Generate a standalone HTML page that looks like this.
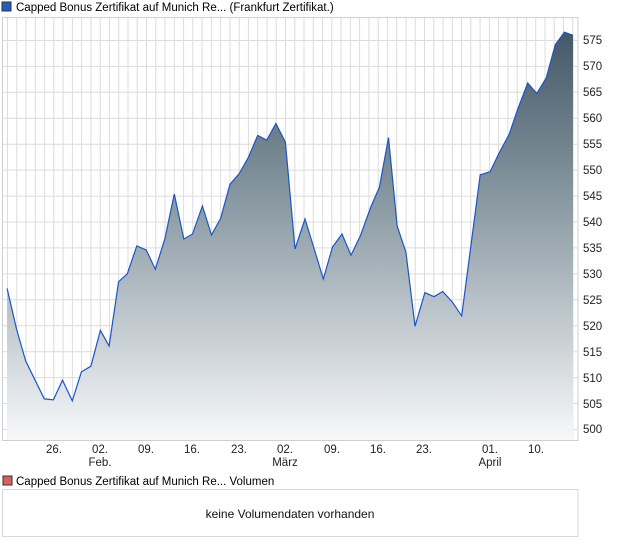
<!DOCTYPE html>
<html><head><meta charset="utf-8"><style>
html,body{margin:0;padding:0;background:#fff;}
svg{display:block;font-family:"Liberation Sans",Arial,sans-serif;}
</style></head><body>
<svg width="620" height="546" viewBox="0 0 620 546" xmlns="http://www.w3.org/2000/svg">
<defs>
<linearGradient id="g" x1="0" y1="30" x2="0" y2="440" gradientUnits="userSpaceOnUse">
<stop offset="0" stop-color="#435766"/>
<stop offset="0.45" stop-color="#8f9ea6"/>
<stop offset="1" stop-color="#f7f8fa"/>
</linearGradient>
</defs>
<rect x="2" y="2" width="9" height="9" fill="#1f5fbf" stroke="#333" stroke-width="1"/>
<text x="16" y="11" font-size="11.5" fill="#000">Capped Bonus Zertifikat auf Munich Re... (Frankfurt Zertifikat.)</text>
<g id="grid" stroke="#dcdcdc" stroke-width="1"></g>
<g stroke="#dcdcdc" stroke-width="1">
<line x1="2" y1="40.5" x2="578" y2="40.5"/><line x1="2" y1="66.4" x2="578" y2="66.4"/><line x1="2" y1="92.3" x2="578" y2="92.3"/><line x1="2" y1="118.3" x2="578" y2="118.3"/><line x1="2" y1="144.2" x2="578" y2="144.2"/><line x1="2" y1="170.1" x2="578" y2="170.1"/><line x1="2" y1="196.1" x2="578" y2="196.1"/><line x1="2" y1="222" x2="578" y2="222"/><line x1="2" y1="247.9" x2="578" y2="247.9"/><line x1="2" y1="273.9" x2="578" y2="273.9"/><line x1="2" y1="299.8" x2="578" y2="299.8"/><line x1="2" y1="325.7" x2="578" y2="325.7"/><line x1="2" y1="351.7" x2="578" y2="351.7"/><line x1="2" y1="377.6" x2="578" y2="377.6"/><line x1="2" y1="403.5" x2="578" y2="403.5"/><line x1="2" y1="429.5" x2="578" y2="429.5"/>
<line x1="7.5" y1="17" x2="7.5" y2="440"/><line x1="16.8" y1="17" x2="16.8" y2="440"/><line x1="26" y1="17" x2="26" y2="440"/><line x1="35.3" y1="17" x2="35.3" y2="440"/><line x1="44.6" y1="17" x2="44.6" y2="440"/><line x1="53.8" y1="17" x2="53.8" y2="440"/><line x1="63.1" y1="17" x2="63.1" y2="440"/><line x1="72.4" y1="17" x2="72.4" y2="440"/><line x1="81.6" y1="17" x2="81.6" y2="440"/><line x1="90.9" y1="17" x2="90.9" y2="440"/><line x1="100.2" y1="17" x2="100.2" y2="440"/><line x1="109.4" y1="17" x2="109.4" y2="440"/><line x1="118.7" y1="17" x2="118.7" y2="440"/><line x1="128" y1="17" x2="128" y2="440"/><line x1="137.2" y1="17" x2="137.2" y2="440"/><line x1="146.5" y1="17" x2="146.5" y2="440"/><line x1="155.8" y1="17" x2="155.8" y2="440"/><line x1="165" y1="17" x2="165" y2="440"/><line x1="174.3" y1="17" x2="174.3" y2="440"/><line x1="183.6" y1="17" x2="183.6" y2="440"/><line x1="192.8" y1="17" x2="192.8" y2="440"/><line x1="202.1" y1="17" x2="202.1" y2="440"/><line x1="211.4" y1="17" x2="211.4" y2="440"/><line x1="220.6" y1="17" x2="220.6" y2="440"/><line x1="229.9" y1="17" x2="229.9" y2="440"/><line x1="239.2" y1="17" x2="239.2" y2="440"/><line x1="248.4" y1="17" x2="248.4" y2="440"/><line x1="257.7" y1="17" x2="257.7" y2="440"/><line x1="267" y1="17" x2="267" y2="440"/><line x1="276.2" y1="17" x2="276.2" y2="440"/><line x1="285.5" y1="17" x2="285.5" y2="440"/><line x1="294.8" y1="17" x2="294.8" y2="440"/><line x1="304" y1="17" x2="304" y2="440"/><line x1="313.3" y1="17" x2="313.3" y2="440"/><line x1="322.6" y1="17" x2="322.6" y2="440"/><line x1="331.8" y1="17" x2="331.8" y2="440"/><line x1="341.1" y1="17" x2="341.1" y2="440"/><line x1="350.4" y1="17" x2="350.4" y2="440"/><line x1="359.6" y1="17" x2="359.6" y2="440"/><line x1="368.9" y1="17" x2="368.9" y2="440"/><line x1="378.2" y1="17" x2="378.2" y2="440"/><line x1="387.4" y1="17" x2="387.4" y2="440"/><line x1="396.7" y1="17" x2="396.7" y2="440"/><line x1="406" y1="17" x2="406" y2="440"/><line x1="415.2" y1="17" x2="415.2" y2="440"/><line x1="424.5" y1="17" x2="424.5" y2="440"/><line x1="433.8" y1="17" x2="433.8" y2="440"/><line x1="443" y1="17" x2="443" y2="440"/><line x1="452.3" y1="17" x2="452.3" y2="440"/><line x1="461.6" y1="17" x2="461.6" y2="440"/><line x1="470.8" y1="17" x2="470.8" y2="440"/><line x1="480.1" y1="17" x2="480.1" y2="440"/><line x1="489.4" y1="17" x2="489.4" y2="440"/><line x1="498.6" y1="17" x2="498.6" y2="440"/><line x1="507.9" y1="17" x2="507.9" y2="440"/><line x1="517.2" y1="17" x2="517.2" y2="440"/><line x1="526.4" y1="17" x2="526.4" y2="440"/><line x1="535.7" y1="17" x2="535.7" y2="440"/><line x1="545" y1="17" x2="545" y2="440"/><line x1="554.2" y1="17" x2="554.2" y2="440"/><line x1="563.5" y1="17" x2="563.5" y2="440"/><line x1="572.8" y1="17" x2="572.8" y2="440"/>
</g>
<polygon fill="url(#g)" points="7.1,440 7.1,288.4 16.6,329.4 25.7,361 35.6,381.2 44.3,398.9 53.4,399.9 62.5,380.2 72.3,400.9 81.4,371.9 90.9,366.2 100.4,330.4 109.1,346 118.6,281.7 127.3,273.9 136.8,245.9 146.2,250 155.3,269.2 164.8,239.1 174.3,194 183.8,239 192.5,234 202.4,206 211.5,235 220.6,218.4 230,184.2 239.1,173.8 248.2,157.7 257.7,135.4 266.8,140.1 275.9,123.5 285.4,142.2 295,249 305,219 314.2,249 323.3,279 332.5,247 342,234 351,255.2 360.5,235.5 370.8,207 379.4,187.3 388.5,137.5 397.2,226.2 405.9,252.1 415,326.3 424.9,292.6 434,296.7 442.7,291.5 452.6,302.4 461.7,315.9 480.2,174.8 490.1,171.7 498.8,153.6 509.1,134.4 517.8,109 527.7,83 536.8,93.4 546.2,77.9 555.3,44.7 564.4,32.2 573.1,35.3 573.1,440"/>
<polyline fill="none" stroke="#1a56c8" stroke-width="1.2" points="7.1,288.4 16.6,329.4 25.7,361 35.6,381.2 44.3,398.9 53.4,399.9 62.5,380.2 72.3,400.9 81.4,371.9 90.9,366.2 100.4,330.4 109.1,346 118.6,281.7 127.3,273.9 136.8,245.9 146.2,250 155.3,269.2 164.8,239.1 174.3,194 183.8,239 192.5,234 202.4,206 211.5,235 220.6,218.4 230,184.2 239.1,173.8 248.2,157.7 257.7,135.4 266.8,140.1 275.9,123.5 285.4,142.2 295,249 305,219 314.2,249 323.3,279 332.5,247 342,234 351,255.2 360.5,235.5 370.8,207 379.4,187.3 388.5,137.5 397.2,226.2 405.9,252.1 415,326.3 424.9,292.6 434,296.7 442.7,291.5 452.6,302.4 461.7,315.9 480.2,174.8 490.1,171.7 498.8,153.6 509.1,134.4 517.8,109 527.7,83 536.8,93.4 546.2,77.9 555.3,44.7 564.4,32.2 573.1,35.3"/>
<rect x="2.5" y="17.5" width="575.5" height="423" fill="none" stroke="#cfcfcf" stroke-width="1"/>
<g font-size="11.5" fill="#222">
<text x="583" y="44">575</text><text x="583" y="70">570</text><text x="583" y="96">565</text><text x="583" y="122">560</text><text x="583" y="148">555</text><text x="583" y="174">550</text><text x="583" y="200">545</text><text x="583" y="226">540</text><text x="583" y="252">535</text><text x="583" y="278">530</text><text x="583" y="304">525</text><text x="583" y="330">520</text><text x="583" y="356">515</text><text x="583" y="382">510</text><text x="583" y="408">505</text><text x="583" y="433">500</text>
</g>
<g font-size="11.5" fill="#222" text-anchor="middle">
<text x="54" y="453">26.</text><text x="100" y="453">02.</text><text x="146" y="453">09.</text><text x="192" y="453">16.</text><text x="239" y="453">23.</text><text x="285" y="453">02.</text><text x="332" y="453">09.</text><text x="378" y="453">16.</text><text x="424" y="453">23.</text><text x="490" y="453">01.</text><text x="536" y="453">10.</text>
<text x="100" y="466">Feb.</text><text x="285" y="466">März</text><text x="490" y="466">April</text>
</g>
<rect x="3" y="476" width="9" height="9" fill="#d9605a" stroke="#333" stroke-width="1"/>
<text x="16" y="485" font-size="11.5" fill="#000">Capped Bonus Zertifikat auf Munich Re... Volumen</text>
<rect x="2.5" y="489.5" width="575.5" height="47" fill="#fff" stroke="#d8d8d8" stroke-width="1"/>
<text x="290" y="518" font-size="12" fill="#111" text-anchor="middle">keine Volumendaten vorhanden</text>
</svg>
</body></html>
